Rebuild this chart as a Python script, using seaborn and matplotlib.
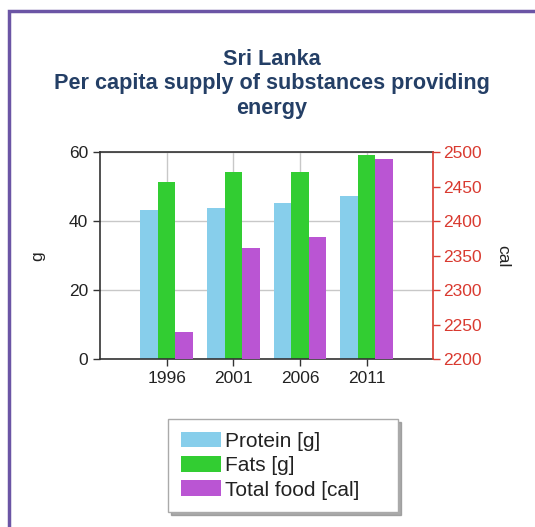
import matplotlib
matplotlib.use("Agg")
import matplotlib.pyplot as plt
import matplotlib.patches as mpatches
import seaborn as sns
import pandas as pd
import numpy as np

# ---- data ----
years = ["1996", "2001", "2006", "2011"]
protein_g = [43.3, 43.9, 45.2, 47.3]
fats_g = [51.3, 54.2, 54.2, 59.2]
total_food_cal = [2240, 2362, 2377, 2490]
series_names = ["Protein [g]", "Fats [g]", "Total food [cal]"]
colors = ["#87CEEB", "#32CD32", "#BA55D3"]
title_text = "Sri Lanka\nPer capita supply of substances providing\nenergy"

sns.set_theme(style="white")
plt.rcParams["font.family"] = ["Liberation Sans", "DejaVu Sans"]

rows = []
for i, y in enumerate(years):
    rows.append({"year": y, "series": series_names[0], "g": protein_g[i], "cal": np.nan})
    rows.append({"year": y, "series": series_names[1], "g": fats_g[i], "cal": np.nan})
    rows.append({"year": y, "series": series_names[2], "g": np.nan, "cal": total_food_cal[i]})
df = pd.DataFrame(rows)

fig = plt.figure(figsize=(5.35, 5.27), dpi=100)
fig.patch.set_facecolor("white")
ax1 = fig.add_axes([100 / 535, 1 - 359.3 / 527, 333.3 / 535, 207 / 527])
ax2 = ax1.twinx()

pal = dict(zip(series_names, colors))
sns.barplot(data=df, x="year", y="g", hue="series", hue_order=series_names,
            order=years, palette=pal, width=0.79, errorbar=None, ax=ax1,
            legend=False, saturation=1, linewidth=0)
sns.barplot(data=df, x="year", y="cal", hue="series", hue_order=series_names,
            order=years, palette=pal, width=0.79, errorbar=None, ax=ax2,
            legend=False, saturation=1, linewidth=0)

ax1.set_xlim(-1, 4)
ax1.set_ylim(0, 60)
ax2.set_ylim(2200, 2500)
ax1.set_yticks([0, 20, 40, 60])
ax2.set_yticks([2200, 2250, 2300, 2350, 2400, 2450, 2500])

ax1.set_axisbelow(True)
ax1.grid(True, color="#C8C8C8", linewidth=1)
ax2.grid(False)
ax2.patch.set_visible(False)

dark = "#333333"
red = "#D93A30"
for s in ["left", "bottom", "top"]:
    ax1.spines[s].set_color(dark)
    ax1.spines[s].set_linewidth(1.2)
ax1.spines["right"].set_visible(False)
for s in ["left", "bottom", "top"]:
    ax2.spines[s].set_visible(False)
ax2.spines["right"].set_color(red)
ax2.spines["right"].set_linewidth(1.2)

ax1.tick_params(axis="both", direction="out", length=5, width=1, color=dark,
                labelsize=12.5, labelcolor="#222222", left=True, bottom=True)
ax2.tick_params(axis="y", direction="out", length=5, width=1, color=red,
                labelsize=12.5, labelcolor=red, right=True, pad=2)
ax1.set_xlabel("")
ax1.set_ylabel("g", fontsize=12.5, color="#222222")
ax2.set_ylabel("cal", fontsize=12.5, color="#222222", rotation=270)
ax1.yaxis.set_label_coords(-0.165, 0.5)
ax2.yaxis.set_label_coords(1.23, 0.5)

fig.text(272 / 535, 1 - 84 / 527, title_text, ha="center", va="center",
         fontsize=15.6, fontweight="bold", color="#243F66", linespacing=1.2)

handles = [mpatches.Patch(facecolor=c, edgecolor="none", label=n)
           for c, n in zip(colors, series_names)]
leg = fig.legend(handles=handles, loc="upper left",
                 bbox_to_anchor=(168 / 535, 1 - 518 / 527, 230 / 535, 99 / 527),
                 mode="expand", frameon=True,
                 fancybox=False, shadow={"color": "#888888", "alpha": 0.7},
                 fontsize=15, handlelength=1.95,
                 handleheight=0.8, labelspacing=0.25, borderpad=0.6,
                 handletextpad=0.2, borderaxespad=0)
leg.get_frame().set_edgecolor("#AAAAAA")
leg.get_frame().set_linewidth(1)
for t in leg.get_texts():
    t.set_color("#222222")

border = mpatches.Rectangle((9 / 535, -0.1), 2.0, (1 - 11 / 527) + 0.1,
                            transform=fig.transFigure, fill=False,
                            edgecolor="#6B55A5", linewidth=2.5)
fig.add_artist(border)

fig.savefig("out.png", dpi=100, facecolor="white")
